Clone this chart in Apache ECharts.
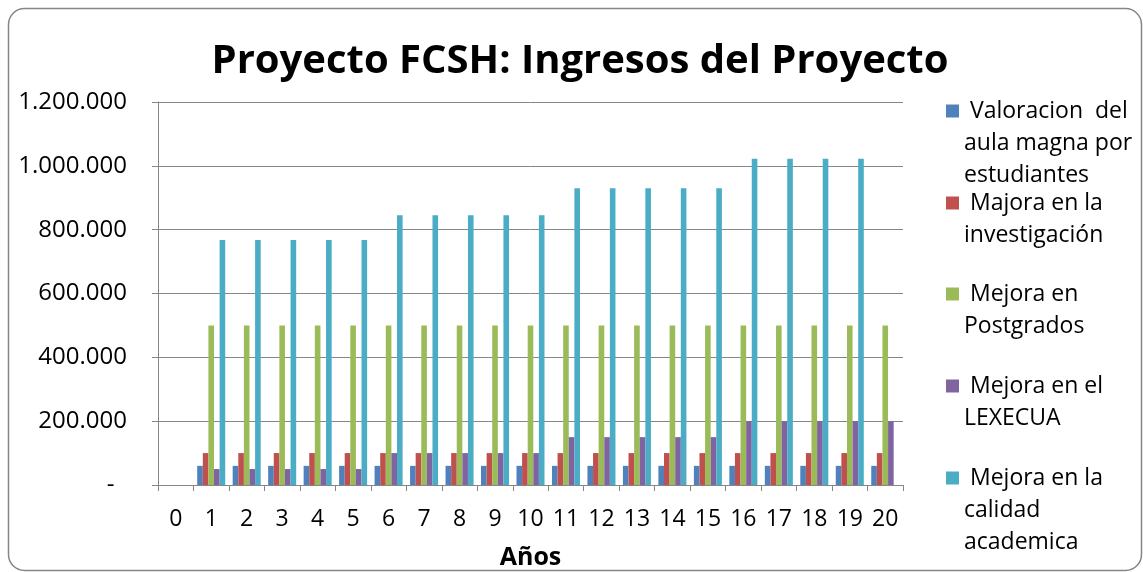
<!DOCTYPE html>
<html>
<head>
    <meta charset="utf-8">
    <title>Proyecto FCSH: Ingresos del Proyecto</title>
    <script src="https://cdn.jsdelivr.net/npm/echarts@6/dist/echarts.min.js"></script>
    <style>
        html, body { margin: 0; padding: 0; background: #fff; }
        #main { width: 1143px; height: 572px; }
    </style>
</head>
<body>
<div id="main"></div>
<script>
// datos del grafico
var years = ['0', '1', '2', '3', '4', '5', '6', '7', '8', '9', '10', '11', '12', '13', '14', '15', '16', '17', '18', '19', '20'];
var valoracion = [0, 60000, 60000, 60000, 60000, 60000, 60000, 60000, 60000, 60000, 60000, 60000, 60000, 60000, 60000, 60000, 60000, 60000, 60000, 60000, 60000];
var investigacion = [0, 100000, 100000, 100000, 100000, 100000, 100000, 100000, 100000, 100000, 100000, 100000, 100000, 100000, 100000, 100000, 100000, 100000, 100000, 100000, 100000];
var postgrados = [0, 500000, 500000, 500000, 500000, 500000, 500000, 500000, 500000, 500000, 500000, 500000, 500000, 500000, 500000, 500000, 500000, 500000, 500000, 500000, 500000];
var lexecua = [0, 50000, 50000, 50000, 50000, 50000, 100000, 100000, 100000, 100000, 100000, 150000, 150000, 150000, 150000, 150000, 200000, 200000, 200000, 200000, 200000];
var calidad = [0, 768000, 768000, 768000, 768000, 768000, 845000, 845000, 845000, 845000, 845000, 930000, 930000, 930000, 930000, 930000, 1022000, 1022000, 1022000, 1022000, 0];

var seriesNames = ['Valoracion  del', 'Majora en la', 'Mejora en', 'Mejora en el', 'Mejora en la'];
var legendLabels = [
    ' Valoracion  del\naula magna por\nestudiantes',
    ' Majora en la\ninvestigación',
    ' Mejora en\nPostgrados',
    ' Mejora en el\nLEXECUA',
    ' Mejora en la\ncalidad\nacademica'
];
var legendLines = [3, 2, 2, 2, 3];
var legendTops = [111, 203, 294, 386, 478];   // centro de la primera linea
var colors = ['#4F81BD', '#C0504D', '#9BBB59', '#8064A2', '#4BACC6'];

var font = '"Open Sans", Lato, sans-serif';
var lh = 32;
var sq = 13;

function fmt(v) {
    if (v === 0) return '-  ';
    return String(v).replace(/\B(?=(\d{3})+(?!\d))/g, '.');
}

var chart = echarts.init(document.getElementById('main'), null, {renderer: 'canvas'});

var dataSets = [valoracion, investigacion, postgrados, lexecua, calidad];
var series = [];
var legends = [];
for (var i = 0; i < 5; i++) {
    series.push({
        name: seriesNames[i],
        type: 'bar',
        data: dataSets[i],
        barGap: '0%',
        barCategoryGap: '21%',
        itemStyle: { color: colors[i] }
    });
    // icono alto: el cuadrado queda arriba, alineado con la primera linea
    var h = sq + (legendLines[i] - 1) * lh;
    legends.push({
        data: [seriesNames[i]],
        left: 946,
        top: legendTops[i] - 16,
        padding: 0,
        itemWidth: sq,
        itemHeight: h,
        icon: 'path://M0,0L' + sq + ',0L' + sq + ',' + sq + 'L0,' + sq + 'ZM0,' + h + 'L0,' + h,
        selectedMode: false,
        formatter: (function (t) { return function () { return t; }; })(legendLabels[i]),
        textStyle: {
            fontFamily: font,
            fontSize: 23,
            color: '#000',
            lineHeight: lh
        }
    });
}

option = {
    animation: false,
    backgroundColor: '#fff',
    color: colors,
    title: {
        text: 'Proyecto FCSH: Ingresos del Proyecto',
        left: 575,
        textAlign: 'center',
        top: 37,
        textStyle: {
            fontFamily: font,
            fontSize: 40,
            fontWeight: 'bold',
            color: '#000'
        }
    },
    legend: legends,
    grid: {
        left: 158,
        right: 240,
        top: 102,
        bottom: 87,
        outerBoundsMode: 'none',
        containLabel: false
    },
    xAxis: {
        type: 'category',
        data: years,
        name: 'Años',
        nameLocation: 'middle',
        nameGap: 60,
        nameTextStyle: {
            fontFamily: font,
            fontSize: 25,
            fontWeight: 'bold',
            color: '#000'
        },
        axisLine: { lineStyle: { color: '#868686', width: 1 } },
        axisTick: { show: true, length: 6, lineStyle: { color: '#868686' } },
        axisLabel: {
            margin: 23,
            fontFamily: font,
            fontSize: 23,
            color: '#000',
            interval: 0
        }
    },
    yAxis: {
        type: 'value',
        min: 0,
        max: 1200000,
        interval: 200000,
        axisLine: { show: true, lineStyle: { color: '#868686', width: 1 } },
        axisTick: { show: true, length: 6, lineStyle: { color: '#868686' } },
        splitLine: { lineStyle: { color: '#868686', width: 1 } },
        axisLabel: {
            margin: 31,
            fontFamily: font,
            fontSize: 24,
            color: '#000',
            formatter: fmt
        }
    },
    graphic: [{
        type: 'rect',
        shape: { x: 8.5, y: 8.5, width: 1133, height: 562, r: 16 },
        style: { fill: null, stroke: '#868686', lineWidth: 1.5 },
        silent: true,
        z: -1
    }],
    series: series
};
chart.setOption(option);
</script>
</body>
</html>
